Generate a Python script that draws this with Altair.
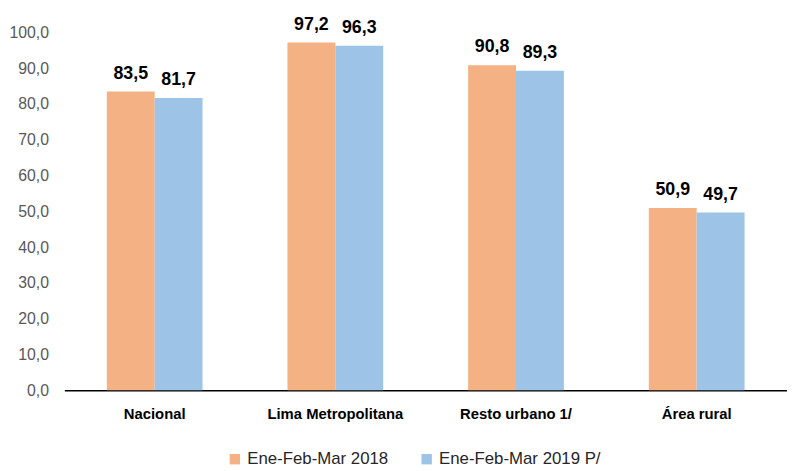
import altair as alt
import pandas as pd

categories = ["Nacional", "Lima Metropolitana", "Resto urbano 1/", "Área rural"]
series = ["Ene-Feb-Mar 2018", "Ene-Feb-Mar 2019 P/"]
values_2018 = [83.5, 97.2, 90.8, 50.9]
values_2019 = [81.7, 96.3, 89.3, 49.7]
y_ticks = [0, 10, 20, 30, 40, 50, 60, 70, 80, 90, 100]
colors = ["#F4B183", "#9DC3E6"]

rows = []
for c, a, b in zip(categories, values_2018, values_2019):
    rows.append({"cat": c, "serie": series[0], "val": a, "lab": f"{a:.1f}".replace(".", ",")})
    rows.append({"cat": c, "serie": series[1], "val": b, "lab": f"{b:.1f}".replace(".", ",")})
df = pd.DataFrame(rows)

FONT = "Liberation Sans, Arial"

x_axis = alt.Axis(labelAngle=0, labelFontWeight="bold", labelFontSize=15,
                  labelColor="#000000", labelFont=FONT, labelPadding=17,
                  ticks=False, domainColor="#000000", domainWidth=1.5)
y_axis = alt.Axis(values=y_ticks, grid=False, ticks=False, domain=False,
                  labelOverlap=False, tickCount=11,
                  labelExpr="replace(format(datum.value, '.1f'), '.', ',')",
                  labelFontSize=16, labelColor="#595959", labelFont=FONT,
                  labelPadding=16, minExtent=54, maxExtent=54)
x_scale = alt.Scale(paddingInner=0.47, paddingOuter=0.235)
y_scale = alt.Scale(domain=[0, 100], nice=False)

x = alt.X("cat:N", sort=categories, title=None, scale=x_scale, axis=x_axis)
y = alt.Y("val:Q", title=None, scale=y_scale, axis=y_axis)
xoff = alt.XOffset("serie:N", sort=series)

bars = alt.Chart(df).mark_bar().encode(
    x=x, xOffset=xoff, y=y,
    color=alt.Color("serie:N", sort=series, title=None,
                    scale=alt.Scale(domain=series, range=colors),
                    legend=alt.Legend(orient="none", legendX=164, legendY=423,
                                      direction="horizontal", symbolType="square",
                                      symbolSize=110, symbolStrokeWidth=0,
                                      labelFontSize=17, labelFont=FONT, labelColor="#262626",
                                      labelLimit=400,
                                      columnPadding=30, labelOffset=4)),
)

text = alt.Chart(df).mark_text(baseline="bottom", dy=-9, fontWeight="bold", fontSize=18,
                               font=FONT, color="#000000").encode(
    x=x, xOffset=xoff, y=y, text="lab:N")

chart = (bars + text).properties(
    width=731, height=362,
    padding={"left": 0, "top": 5, "right": 0, "bottom": 0},
).configure_view(stroke=None)

chart.save("out.html", embed_options={"renderer": "svg", "actions": False})
